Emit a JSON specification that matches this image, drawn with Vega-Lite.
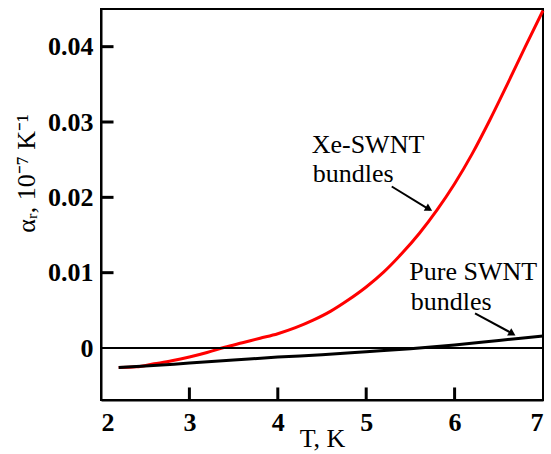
{
  "$schema": "https://vega.github.io/schema/vega-lite/v6.json",
  "autosize": {"type": "none"},
  "width": 442,
  "height": 391,
  "padding": {"left": 101, "top": 9, "right": 8, "bottom": 54},
  "background": "white",
  "config": {
    "view": {"stroke": "black", "strokeWidth": 2},
    "axis": {
      "grid": false,
      "ticks": false,
      "domainColor": "black",
      "domainWidth": 2,
      "labelFont": "Liberation Serif",
      "labelFontSize": 26,
      "labelFontWeight": "bold",
      "labelColor": "black",
      "titleFont": "Liberation Serif",
      "titleFontSize": 26,
      "titleFontWeight": "normal",
      "titleColor": "black"
    }
  },
  "datasets": {
    "curves": [
      {"series": "Xe-SWNT", "T": 2.2, "y": -0.0026},
      {"series": "Xe-SWNT", "T": 2.4, "y": -0.0025},
      {"series": "Xe-SWNT", "T": 2.6, "y": -0.0021},
      {"series": "Xe-SWNT", "T": 2.8, "y": -0.0017},
      {"series": "Xe-SWNT", "T": 3.0, "y": -0.0012},
      {"series": "Xe-SWNT", "T": 3.2, "y": -0.0006},
      {"series": "Xe-SWNT", "T": 3.4, "y": 0.0001},
      {"series": "Xe-SWNT", "T": 3.6, "y": 0.0007},
      {"series": "Xe-SWNT", "T": 3.8, "y": 0.0013},
      {"series": "Xe-SWNT", "T": 4.0, "y": 0.0019},
      {"series": "Xe-SWNT", "T": 4.2, "y": 0.0027},
      {"series": "Xe-SWNT", "T": 4.4, "y": 0.0037},
      {"series": "Xe-SWNT", "T": 4.6, "y": 0.0049},
      {"series": "Xe-SWNT", "T": 4.8, "y": 0.0064},
      {"series": "Xe-SWNT", "T": 5.0, "y": 0.0081},
      {"series": "Xe-SWNT", "T": 5.2, "y": 0.0101},
      {"series": "Xe-SWNT", "T": 5.4, "y": 0.0125},
      {"series": "Xe-SWNT", "T": 5.6, "y": 0.0152},
      {"series": "Xe-SWNT", "T": 5.8, "y": 0.0183},
      {"series": "Xe-SWNT", "T": 6.0, "y": 0.0218},
      {"series": "Xe-SWNT", "T": 6.2, "y": 0.0258},
      {"series": "Xe-SWNT", "T": 6.4, "y": 0.0303},
      {"series": "Xe-SWNT", "T": 6.6, "y": 0.0351},
      {"series": "Xe-SWNT", "T": 6.8, "y": 0.04},
      {"series": "Xe-SWNT", "T": 7.0, "y": 0.0448},
      {"series": "Pure SWNT", "T": 2.2, "y": -0.0026},
      {"series": "Pure SWNT", "T": 2.5, "y": -0.0024},
      {"series": "Pure SWNT", "T": 3.0, "y": -0.002},
      {"series": "Pure SWNT", "T": 3.5, "y": -0.0016},
      {"series": "Pure SWNT", "T": 4.0, "y": -0.0012},
      {"series": "Pure SWNT", "T": 4.5, "y": -0.0009},
      {"series": "Pure SWNT", "T": 5.0, "y": -0.0005},
      {"series": "Pure SWNT", "T": 5.5, "y": -0.0001},
      {"series": "Pure SWNT", "T": 6.0, "y": 0.0004},
      {"series": "Pure SWNT", "T": 6.5, "y": 0.001},
      {"series": "Pure SWNT", "T": 7.0, "y": 0.0016}
    ],
    "zero": [{"y": 0}],
    "xtk": [
      {"T": 3, "y": -0.0061},
      {"T": 4, "y": -0.0061},
      {"T": 5, "y": -0.0061},
      {"T": 6, "y": -0.0061}
    ],
    "ytk": [
      {"T": 2.068, "y": 0.01},
      {"T": 2.068, "y": 0.02},
      {"T": 2.068, "y": 0.03},
      {"T": 2.068, "y": 0.04}
    ],
    "labels": [
      {"T": 4.383, "y": 0.02591, "text": "Xe-SWNT"},
      {"T": 4.395, "y": 0.0221, "text": "bundles"},
      {"T": 5.488, "y": 0.00904, "text": "Pure SWNT"},
      {"T": 5.503, "y": 0.00505, "text": "bundles"}
    ],
    "arrows": [
      {"T": 5.289, "y": 0.02144, "T2": 5.72, "y2": 0.01835},
      {"T": 6.231, "y": 0.00461, "T2": 6.66, "y2": 0.00188}
    ],
    "heads": [
      {"T": 5.71, "y": 0.01845},
      {"T": 6.653, "y": 0.00191}
    ]
  },
  "layer": [
    {
      "data": {"name": "curves"},
      "mark": {"type": "line", "strokeWidth": 3, "interpolate": "monotone"},
      "encoding": {
        "x": {
          "field": "T", "type": "quantitative", "title": "T, K",
          "scale": {"domain": [2, 7], "nice": false, "zero": false},
          "axis": {"values": [2, 3, 4, 5, 6, 7], "format": "d", "labelPadding": 9, "titleY": 46, "titleBaseline": "alphabetic"}
        },
        "y": {
          "field": "y", "type": "quantitative", "title": "αᵣ, 10⁻⁷ K⁻¹",
          "scale": {"domain": [-0.0069, 0.045], "nice": false, "zero": false},
          "axis": {
            "values": [0, 0.01, 0.02, 0.03, 0.04],
            "labelExpr": "datum.value == 0 ? '0' : format(datum.value, '.2f')",
            "labelPadding": 8,
            "titleAngle": -90,
            "titleX": -75,
            "titleY": 164,
            "titleAlign": "center",
            "titleBaseline": "middle"
          }
        },
        "color": {
          "field": "series", "type": "nominal",
          "scale": {"domain": ["Xe-SWNT", "Pure SWNT"], "range": ["#ff0000", "#000000"]},
          "legend": null
        },
        "order": {"field": "T", "type": "quantitative"}
      }
    },
    {
      "data": {"name": "zero"},
      "mark": {"type": "rule", "color": "black", "strokeWidth": 2},
      "encoding": {"y": {"field": "y", "type": "quantitative", "title": "αᵣ, 10⁻⁷ K⁻¹"}}
    },
    {
      "data": {"name": "xtk"},
      "mark": {"type": "tick", "orient": "vertical", "color": "#000000", "size": 13, "thickness": 3, "opacity": 1},
      "encoding": {
        "x": {"field": "T", "type": "quantitative", "title": "T, K"},
        "y": {"field": "y", "type": "quantitative", "title": "αᵣ, 10⁻⁷ K⁻¹"}
      }
    },
    {
      "data": {"name": "ytk"},
      "mark": {"type": "tick", "orient": "horizontal", "color": "#000000", "size": 13, "thickness": 3, "opacity": 1},
      "encoding": {
        "x": {"field": "T", "type": "quantitative", "title": "T, K"},
        "y": {"field": "y", "type": "quantitative", "title": "αᵣ, 10⁻⁷ K⁻¹"}
      }
    },
    {
      "data": {"name": "labels"},
      "mark": {"type": "text", "font": "Liberation Serif", "fontSize": 26, "align": "left", "baseline": "alphabetic", "color": "black"},
      "encoding": {
        "x": {"field": "T", "type": "quantitative", "title": "T, K"},
        "y": {"field": "y", "type": "quantitative", "title": "αᵣ, 10⁻⁷ K⁻¹"},
        "text": {"field": "text"}
      }
    },
    {
      "data": {"name": "arrows"},
      "mark": {"type": "rule", "color": "black", "strokeWidth": 2},
      "encoding": {
        "x": {"field": "T", "type": "quantitative", "title": "T, K"},
        "y": {"field": "y", "type": "quantitative", "title": "αᵣ, 10⁻⁷ K⁻¹"},
        "x2": {"field": "T2"},
        "y2": {"field": "y2"}
      }
    },
    {
      "data": {"name": "heads"},
      "mark": {"type": "point", "shape": "triangle-up", "filled": true, "color": "black", "size": 70, "angle": 120, "opacity": 1},
      "encoding": {
        "x": {"field": "T", "type": "quantitative", "title": "T, K"},
        "y": {"field": "y", "type": "quantitative", "title": "αᵣ, 10⁻⁷ K⁻¹"}
      }
    }
  ]
}
